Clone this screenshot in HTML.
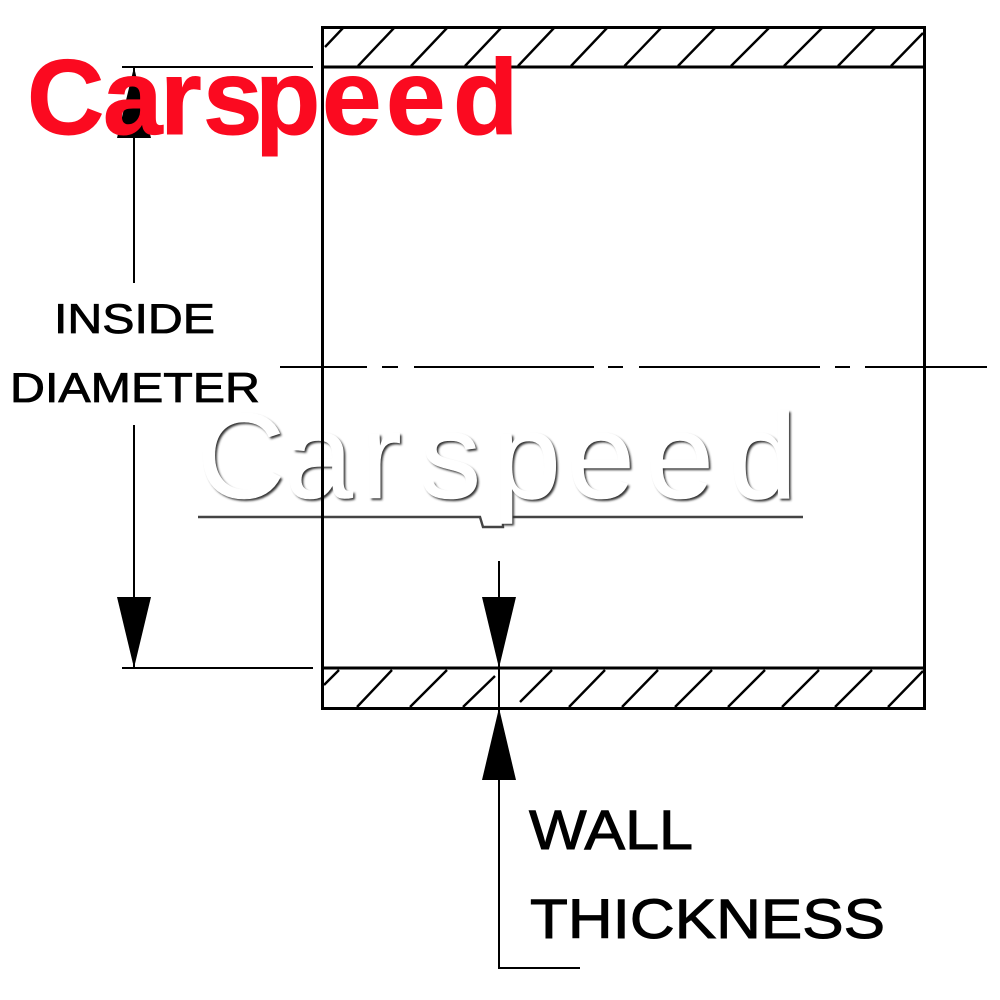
<!DOCTYPE html>
<html>
<head>
<meta charset="utf-8">
<style>
html,body{margin:0;padding:0;background:#fff;width:1000px;height:1000px;overflow:hidden}
svg{display:block}
text{font-family:"Liberation Sans",sans-serif}
</style>
</head>
<body>
<svg width="1000" height="1000" viewBox="0 0 1000 1000" xmlns="http://www.w3.org/2000/svg">
<defs>
<filter id="b" x="-5%" y="-20%" width="110%" height="140%"><feGaussianBlur stdDeviation="1"/></filter>
</defs>
<rect width="1000" height="1000" fill="#fff"/>
<!-- embossed watermark (under the drawing lines) -->
<g font-size="122">
<path d="M198 517H480L483 527H503V517H803" fill="none" stroke="#444" stroke-width="2.4"/>
<text x="197 285 361 420 493 567 646 729" y="498.500" transform="translate(2 1.600)" fill="#333" filter="url(#b)">Carspeed</text>
<text x="197 285 361 420 493 567 646 729" y="498" fill="#fff" stroke="#fff" stroke-width="0.6">Carspeed</text>
</g>
<g fill="none" stroke="#000" stroke-width="3">
<rect x="322.5" y="27.5" width="602" height="681"/>
<path d="M322 67H924M322 668H924"/>
</g>
<g stroke="#000" stroke-width="2.4" fill="none">
<path d="M325 47L343 28M358 66L394 28M411 66L447 28M465 66L501 28M518 66L554 28M571 66L607 28M624.500 66L661 28M678 66L715 28M731 66L769 28M784 66L822 28M838 66L875 28M891 66L923 33"/>
<path d="M324 685L339 670M357 707L392 670M410 707L447 670M463 707L495 676M520 702L552 670M569 707L605 670M622 707L658 670M675 707L712 670M728 707L765 670M782 707L819 670M835 707L872 670M888 707L923 671"/>
</g>
<g stroke="#000" stroke-width="2" fill="none">
<path d="M122 67H313M122 668H313M134 67V283M134 425V668"/>
<path d="M280 367H367M382 367H398M414 367H594M608 367H623M639 367H820M835 367H850M865 367H987"/>
<path d="M499 561V708M499 708V968H580"/>
</g>
<g fill="#000">
<path d="M134 668L117 597H151Z"/>
<path d="M134 67L117 138H151Z"/>
<path d="M499 668L482 597H516Z"/>
<path d="M499 708L482 780H516Z"/>
</g>
<g fill="#000" stroke="#000" stroke-width="0.8" font-size="42">
<text x="54" y="333" textLength="161" lengthAdjust="spacingAndGlyphs">INSIDE</text>
<text x="10" y="402" textLength="250" lengthAdjust="spacingAndGlyphs">DIAMETER</text>
</g>
<g fill="#000" stroke="#000" stroke-width="1" font-size="56">
<text x="529" y="849" textLength="164" lengthAdjust="spacingAndGlyphs">WALL</text>
<text x="530" y="938" textLength="355" lengthAdjust="spacingAndGlyphs">THICKNESS</text>
</g>
<text x="27 103 160 203 255 322 386 453" y="134" font-size="107" font-weight="700" fill="#fb0a20" stroke="#fb0a20" stroke-width="1">Carspeed</text>
</svg>
</body>
</html>
